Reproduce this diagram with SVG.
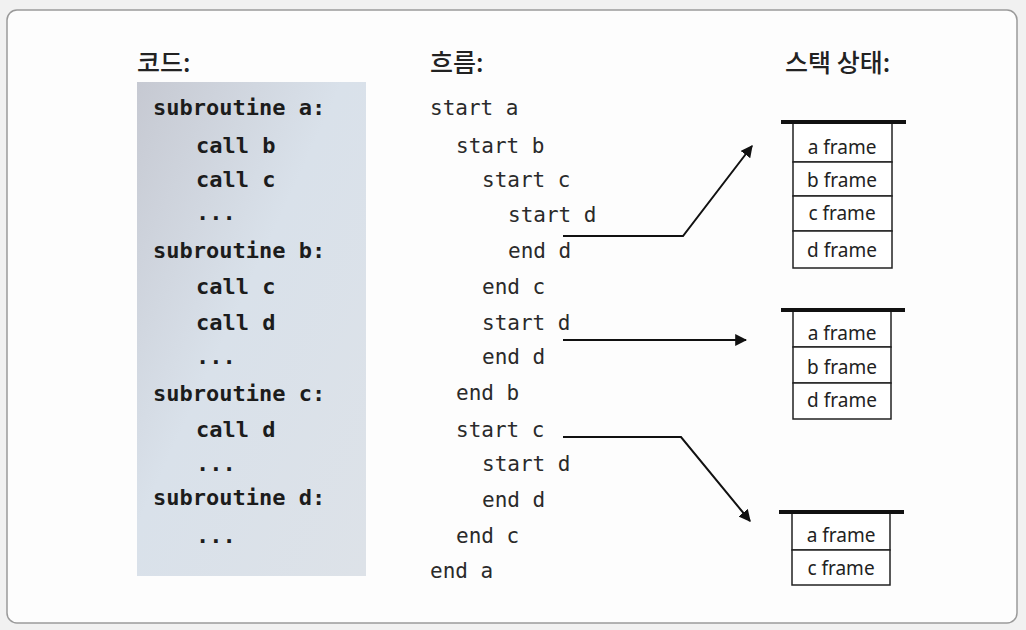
<svg xmlns="http://www.w3.org/2000/svg" width="1026" height="630" viewBox="0 0 1026 630">
<defs>
<linearGradient id="codebg" x1="0" y1="0" x2="1" y2="1">
<stop offset="0" stop-color="#c6c9d2"/>
<stop offset="0.45" stop-color="#d9e1ea"/>
<stop offset="1" stop-color="#dde2e8"/>
</linearGradient>
<marker id="arr" viewBox="0 0 10 10" refX="9" refY="5" markerWidth="12" markerHeight="12" markerUnits="userSpaceOnUse" orient="auto">
<path d="M0,0 L10,5 L0,10 Z" fill="#111"/>
</marker>
<style>
.hdr{font-family:"Noto Sans CJK KR","Noto Sans",sans-serif;font-size:25px;font-weight:500;fill:#222}
.code{font-family:"DejaVu Sans Mono",monospace;font-size:22px;font-weight:bold;fill:#1c1c1c}
.flow{font-family:"DejaVu Sans Mono",monospace;font-size:21px;fill:#2a2a2a}
.frame{fill:#fff;stroke:#222;stroke-width:1.5}
.top{stroke:#111;stroke-width:4}
.lbl{font-family:"Noto Sans",sans-serif;font-size:19px;fill:#222;text-anchor:middle}
.conn{fill:none;stroke:#111;stroke-width:2;marker-end:url(#arr)}
</style>
</defs>
<rect x="0" y="0" width="1026" height="630" fill="#f1f1f1"/>
<rect x="7" y="10" width="1010" height="613" rx="10" fill="#fdfdfd" stroke="#9a9a9a" stroke-width="1.5"/>

<g id="headers">
<text class="hdr" x="137" y="72">코드:</text>
<text class="hdr" x="430" y="72">흐름:</text>
<text class="hdr" x="785" y="72">스택 상태:</text>
</g>

<g id="code">
<rect x="137" y="82" width="229" height="494" fill="url(#codebg)"/>
<text class="code" x="153" y="115">subroutine a:</text>
<text class="code" x="196" y="153">call b</text>
<text class="code" x="196" y="187">call c</text>
<text class="code" x="196" y="220">...</text>
<text class="code" x="153" y="258">subroutine b:</text>
<text class="code" x="196" y="294">call c</text>
<text class="code" x="196" y="330">call d</text>
<text class="code" x="196" y="364">...</text>
<text class="code" x="153" y="401">subroutine c:</text>
<text class="code" x="196" y="437">call d</text>
<text class="code" x="196" y="471">...</text>
<text class="code" x="153" y="505">subroutine d:</text>
<text class="code" x="196" y="543">...</text>
</g>

<g id="flow">
<text class="flow" x="430" y="115">start a</text>
<text class="flow" x="456" y="153">start b</text>
<text class="flow" x="482" y="187">start c</text>
<text class="flow" x="508" y="222">start d</text>
<text class="flow" x="508" y="258">end d</text>
<text class="flow" x="482" y="294">end c</text>
<text class="flow" x="482" y="330">start d</text>
<text class="flow" x="482" y="364">end d</text>
<text class="flow" x="456" y="400">end b</text>
<text class="flow" x="456" y="437">start c</text>
<text class="flow" x="482" y="471">start d</text>
<text class="flow" x="482" y="507">end d</text>
<text class="flow" x="456" y="543">end c</text>
<text class="flow" x="430" y="578">end a</text>
</g>

<g id="stack1">
<rect class="frame" x="793" y="122" width="99" height="40"/>
<rect class="frame" x="793" y="162" width="99" height="34"/>
<rect class="frame" x="793" y="196" width="99" height="35"/>
<rect class="frame" x="793" y="231" width="99" height="37"/>
<line class="top" x1="781" y1="122" x2="906" y2="122"/>
<text class="lbl" x="842" y="154">a frame</text>
<text class="lbl" x="842" y="187">b frame</text>
<text class="lbl" x="842" y="220">c frame</text>
<text class="lbl" x="842" y="257">d frame</text>
</g>

<g id="stack2">
<rect class="frame" x="793" y="310" width="98" height="37"/>
<rect class="frame" x="793" y="347" width="98" height="36"/>
<rect class="frame" x="793" y="383" width="98" height="36"/>
<line class="top" x1="781" y1="310" x2="905" y2="310"/>
<text class="lbl" x="842" y="340">a frame</text>
<text class="lbl" x="842" y="374">b frame</text>
<text class="lbl" x="842" y="407">d frame</text>
</g>

<g id="stack3">
<rect class="frame" x="792" y="512" width="98" height="38"/>
<rect class="frame" x="792" y="550" width="98" height="35"/>
<line class="top" x1="779" y1="512" x2="904" y2="512"/>
<text class="lbl" x="841" y="542">a frame</text>
<text class="lbl" x="841" y="575">c frame</text>
</g>

<g id="connectors">
<polyline class="conn" points="563,236 683,236 752,146"/>
<polyline class="conn" points="563,340 746,340"/>
<polyline class="conn" points="563,437 681,437 750,521"/>
</g>
</svg>
